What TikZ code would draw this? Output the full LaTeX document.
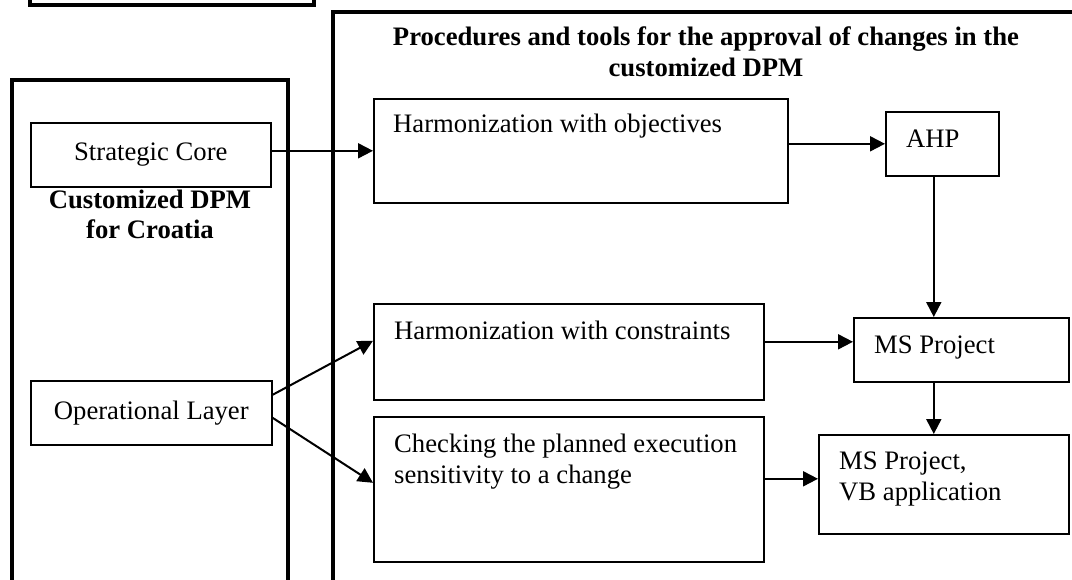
\documentclass[tikz,border=0pt]{standalone}
\usepackage{fontspec}
\setmainfont{Liberation Serif}
\usetikzlibrary{arrows.meta,calc}
\begin{document}
\begin{tikzpicture}[x=1pt,y=-1pt,
  box/.style={draw, line width=1.6pt, inner sep=0pt, anchor=north west, font=\fontsize{26.67}{30.7}\selectfont},
  frame/.style={line width=3.2pt},
  txt/.style={anchor=base west, inner sep=0pt, font=\fontsize{26.67}{30.7}\selectfont},
  btxt/.style={anchor=base, inner sep=0pt, font=\fontsize{26.67}{30.7}\selectfont\bfseries},
  arr/.style={line width=2pt, -{Triangle[length=15pt,width=15pt]}},
]
\useasboundingbox (0,0) rectangle (1072,579);
\clip (0,0) rectangle (1072,579);

% containers
\draw[frame] (30,-10) -- (30,5) -- (314,5) -- (314,-10);
\draw[frame] (12,590) -- (12,80) -- (288,80) -- (288,590);
\draw[frame] (333,590) -- (333,12) -- (1085,12) -- (1085,590);

% titles
\node[btxt] (t1) at (706,45) {Procedures and tools for the approval of changes in the};
\node[btxt] (t2) at (706,76) {customized DPM};
\node[btxt] (c1) at (150,208) {Customized DPM};
\node[btxt] (c2) at (150,238) {for Croatia};

% left boxes
\node[box, minimum width=240pt, minimum height=64pt] (sc) at (30,122) {Strategic Core};
\node[box, minimum width=241pt, minimum height=64pt] (op) at (30,380) {Operational Layer};

% middle boxes
\node[box, minimum width=414pt, minimum height=104pt] (hobj) at (373,98) {};
\node[txt] (hobjt) at (393,132) {Harmonization with objectives};
\node[box, minimum width=390pt, minimum height=96pt] (hcon) at (373,303) {};
\node[txt] (hcont) at (394,339) {Harmonization with constraints};
\node[box, minimum width=390pt, minimum height=145pt] (chk) at (373,416) {};
\node[txt] (chkt1) at (394,452) {Checking the planned execution};
\node[txt] (chkt2) at (394,483) {sensitivity to a change};

% right boxes
\node[box, minimum width=113pt, minimum height=64pt] (ahp) at (885,111) {};
\node[txt] (ahpt) at (906,147) {AHP};
\node[box, minimum width=215pt, minimum height=64pt] (msp) at (853,317) {};
\node[txt] (mspt) at (874,353) {MS Project};
\node[box, minimum width=250pt, minimum height=99pt] (mvb) at (818,434) {};
\node[txt] (mvbt1) at (839,469) {MS Project,};
\node[txt] (mvbt2) at (839,500) {VB application};

% connectors
\draw[arr] ([yshift=4pt]sc.east) -- ([yshift=4pt]sc.east -| hobj.west);
\draw[arr] (ahp.west -| hobj.east) -- (ahp.west);
\draw[arr] ([xshift=-8.5pt]ahp.south) -- ([xshift=-8.5pt]ahp.south |- msp.north);
\draw[arr] ([yshift=10pt]hcon.east) -- ([yshift=10pt]hcon.east -| msp.west);
\draw[arr] ([xshift=-27.5pt]msp.south) -- ([xshift=-27.5pt]msp.south |- mvb.north);
\draw[arr] ([yshift=10.5pt]chk.east) -- ([yshift=10.5pt]chk.east -| mvb.west);
\draw[arr] ([yshift=18pt]op.east) -- ([yshift=11pt]hcon.west);
\draw[arr] ([yshift=-5pt]op.east) -- ([yshift=6.5pt]chk.west);
\end{tikzpicture}
\end{document}
